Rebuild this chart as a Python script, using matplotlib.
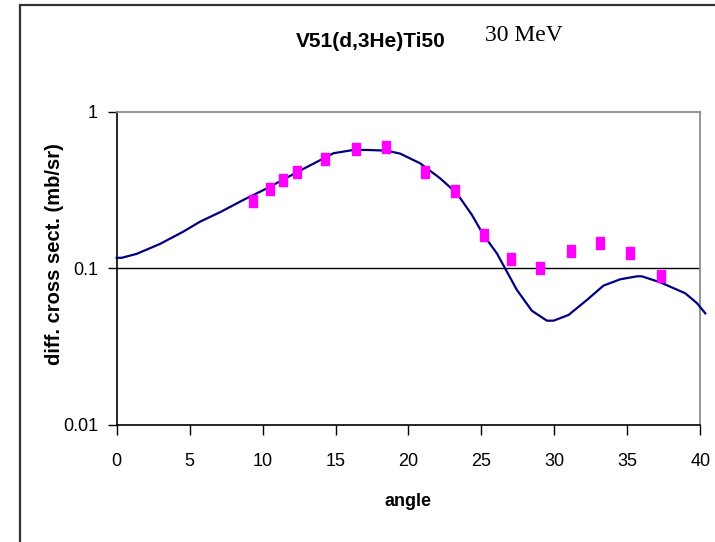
import matplotlib.pyplot as plt
from matplotlib.patches import Rectangle
from matplotlib.path import Path

# measured cross sections (pink squares)
exp_angle = [9.37, 10.51, 11.38, 12.37, 14.29, 16.39, 18.45, 21.15, 23.16,
             25.19, 27.02, 29.05, 31.16, 33.1, 35.2, 37.33]
exp_xsec = [0.270, 0.321, 0.368, 0.414, 0.501, 0.578, 0.598, 0.414, 0.311,
            0.163, 0.1155, 0.100, 0.130, 0.145, 0.126, 0.0895]

# DWBA calculation (line)
calc_angle = [0.0, 0.34, 1.37, 2.97, 4.57, 5.71, 7.09, 8.68, 10.29, 12.57,
              14.86, 16.23, 17.15, 18.52, 19.43, 20.8, 22.17, 23.32, 24.35,
              25.14, 26.06, 26.75, 27.43, 28.46, 29.49, 29.95, 30.98, 32.24,
              33.37, 34.52, 35.66, 36.0, 37.26, 38.98, 39.78, 40.35]
calc_xsec = [0.117, 0.117, 0.124, 0.1435, 0.172, 0.199, 0.229, 0.274, 0.325,
             0.422, 0.545, 0.572, 0.572, 0.566, 0.542, 0.47, 0.377, 0.302,
             0.22, 0.164, 0.125, 0.0954, 0.073, 0.0537, 0.0464, 0.0464,
             0.0505, 0.063, 0.0777, 0.0853, 0.0891, 0.0891, 0.0816, 0.0694,
             0.060, 0.0517]

x_ticks = [0, 5, 10, 15, 20, 25, 30, 35, 40]
y_ticks = [0.01, 0.1, 1]
y_tick_labels = ["0.01", "0.1", "1"]

SANS = "Liberation Sans"

fig = plt.figure(figsize=(7.15, 5.42), dpi=100)
ax = fig.add_axes([0.1632, 0.2159, 0.8161, 0.5775])

ax.plot(calc_angle, calc_xsec, color="#000080", linewidth=1.6, clip_on=False, zorder=3)

rect_marker = Path([(-0.36, -0.5), (0.36, -0.5), (0.36, 0.5), (-0.36, 0.5), (-0.36, -0.5)],
                   [Path.MOVETO, Path.LINETO, Path.LINETO, Path.LINETO, Path.CLOSEPOLY])
ax.plot(exp_angle, exp_xsec, linestyle="none", marker=rect_marker, markersize=8.2,
        markerfacecolor="#FF00FF", markeredgecolor="#FF00FF", zorder=4)

ax.set_yscale("log")
ax.set_xlim(0, 40)
ax.set_ylim(0.01, 1)
ax.set_xticks(x_ticks)
ax.set_xticklabels([str(t) for t in x_ticks], fontfamily=SANS, fontsize=13)
ax.set_yticks(y_ticks)
ax.set_yticklabels(y_tick_labels, fontfamily=SANS, fontsize=13)
ax.minorticks_off()
ax.tick_params(axis="x", direction="out", length=7, width=1, pad=13)
ax.tick_params(axis="y", direction="out", length=6.5, width=1, pad=7)

ax.axhline(0.1, color="black", linewidth=1, zorder=1)

for side in ("left", "bottom"):
    ax.spines[side].set_color("black")
    ax.spines[side].set_linewidth(1.2)
for side in ("top", "right"):
    ax.spines[side].set_color("#8c8c8c")
    ax.spines[side].set_linewidth(1.3)

fig.text(408 / 715, 1 - 502 / 542, "angle", fontfamily=SANS, fontweight="bold",
         fontsize=13, ha="center", va="center")
fig.text(55 / 715, 1 - 254 / 542, "diff. cross sect. (mb/sr)", fontfamily=SANS,
         fontweight="bold", fontsize=14.5, rotation=90, ha="center", va="center")

fig.text(0.519, 0.924, "V51(d,3He)Ti50", fontfamily=SANS, fontweight="bold",
         fontsize=15, ha="center", va="center")
fig.text(0.733, 0.935, "30 MeV", fontfamily="Liberation Serif", fontsize=17,
         ha="center", va="center")

# outer chart border (runs off the right and bottom edges)
fig.patches.append(Rectangle((20 / 715, -0.05), 1.1, 1 - 5 / 542 + 0.05,
                             transform=fig.transFigure, fill=False,
                             edgecolor="#333333", linewidth=1.6))

fig.savefig("out.png", dpi=100)
